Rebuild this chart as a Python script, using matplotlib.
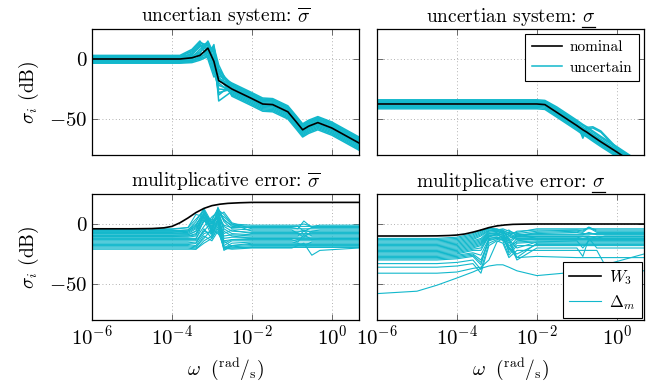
import matplotlib
matplotlib.use("Agg")
import matplotlib.pyplot as plt
from matplotlib.lines import Line2D
import numpy as np

plt.rcParams['font.family'] = 'serif'
plt.rcParams['font.serif'] = ['cmr10', 'DejaVu Serif']
plt.rcParams['mathtext.fontset'] = 'cm'
plt.rcParams['axes.formatter.use_mathtext'] = True

CYAN = '#12B8CC'

# ---- top left: uncertain system, max singular value (dB) ----
w_tl = [-6, -3.8, -3.5, -3.3, -3.1, -2.95, -2.83, -2.5, -2.0, -1.73, -1.48, -1.1, -0.9, -0.73, -0.58, -0.35, 0.0, 0.68]
nom_tl = [0, 0, 1, 3, 9, -2, -18, -25, -33, -37.5, -38, -44, -52, -59, -56, -53, -57.5, -70]
unc_tl = [
    [3, 3, 8, 15, 5, -8, -14, -20, -28, -32.5, -33, -39, -47, -54, -51, -48, -52.5, -65],
    [2, 2, 4, 10, 14, 0, -10, -21, -29, -33.5, -34, -40, -48, -55, -52, -49, -53.5, -66],
    [1.5, 1.5, 3, 12, 2, -12, -16, -22, -30, -34.5, -35, -41, -49, -56, -53, -50, -54.5, -67],
    [1, 1, 2, 6, 12, 6, -8, -24, -32, -36.5, -37, -43, -51, -58, -55, -52, -56.5, -69],
    [-1, -1, 0, 4, 7, -10, -25, -26, -34, -38.5, -39, -45, -53, -60, -57, -54, -58.5, -71],
    [-1.5, -1.5, -1, 2, 10, 8, -35, -27, -35, -39.5, -40, -46, -54, -61, -58, -55, -59.5, -72],
    [-2, -2, -1.5, 1, 5, -6, -20, -29, -37, -41.5, -42, -48, -56, -63, -60, -57, -61.5, -74],
    [-3, -3, -2, 0, 3, 12, -15, -30, -38, -42.5, -43, -49, -57, -64, -61, -58, -62.5, -75],
    [2.5, 2.5, 6, 13, 0, -15, -12, -22, -30, -34.5, -35, -41, -49, -56, -53, -50, -54.5, -67],
    [0.5, 0.5, 1.5, 8, 13, -4, -28, -25, -33, -37.5, -38, -44, -52, -59, -56, -53, -57.5, -70],
    [-2.5, -2.5, -2, 1, 6, 10, -5, -28, -36, -40.5, -41, -47, -55, -62, -59, -56, -60.5, -73],
    [0, 0, 5, 11, 9, -3, -30, -21, -29, -33.5, -34, -40, -48, -55, -52, -49, -53.5, -66],
    [1.8, 1.8, 7, 14, 11, -6, -18, -23, -31, -35.5, -36, -42, -50, -57, -54, -51, -55.5, -68],
    [-0.5, -0.5, 0.5, 5, 15, 4, -22, -26, -34, -38.5, -39, -45, -53, -60, -57, -54, -58.5, -71],
    [-3.5, -3.5, -3, -1, 2, 9, -10, -31, -39, -43.5, -44, -50, -58, -65, -62, -59, -63.5, -76],
]

# ---- top right: uncertain system, min singular value (dB) ----
w_tr = [-6, -2.0, -1.8, -1.5, -1.0, -0.85, -0.75, -0.6, -0.4, 0.0, 0.68]
nom_tr = [-37.5, -37.5, -38, -44.5, -55.5, -59, -61, -64.5, -69, -77.5, -92.5]
unc_tr = [
    [-34, -34, -34.5, -40, -51, -54.5, -56.5, -60, -64.5, -73, -88],
    [-35, -35, -35.5, -41, -52, -55.5, -57.5, -61, -65.5, -74, -89],
    [-36, -36, -36.5, -42.5, -53.5, -57, -59, -62.5, -67, -75.5, -90.5],
    [-37, -37, -37.5, -43.5, -54.5, -58, -60, -63.5, -68, -76.5, -91.5],
    [-38.5, -38.5, -39, -45.5, -56.5, -60, -62, -65.5, -70, -78.5, -93.5],
    [-39.5, -39.5, -40, -46.5, -57.5, -61, -63, -66.5, -71, -79.5, -94.5],
    [-40.5, -40.5, -41, -47.5, -58.5, -62, -64, -67.5, -72, -80.5, -95.5],
    [-41.5, -41.5, -42, -48.5, -59.5, -63, -65, -68.5, -73, -81.5, -96.5],
    [-36, -36, -36.5, -42.5, -53.5, -66, -58, -57.5, -61, -75, -90],
    [-35, -35, -35.5, -41.5, -52.5, -64, -57, -56.5, -60, -74, -89],
]

# ---- bottom: multiplicative error ----
w_b = [-6, -5, -4.5, -4, -3.6, -3.4, -3.2, -3.0, -2.85, -2.7, -2.5, -2.0, -1.0, -0.85, -0.7, -0.5, -0.3, 0.68]

w_w3 = [-6, -5, -4.5, -4.2, -4, -3.8, -3.6, -3.4, -3.2, -3.0, -2.8, -2.6, -2.3, -2.0, 0.68]
w3_max = [-4, -4, -3.8, -3.2, -2, 1, 5, 9.5, 13, 15.3, 16.5, 17.2, 17.7, 18, 18]
w3_min = [-10, -10, -9.9, -9.6, -9.2, -8.3, -6.8, -5, -3, -1.6, -0.8, -0.3, -0.1, 0, 0]

err_max = [
    [-4, -4, -4, -4, -3, 4, 11, 0, 9, 6, 0, -1, -1, -1, 0, -2, -1, -1],
    [-4.5, -4.5, -4.5, -4.5, -3, 8, 6, -3, 11, 3, -1, -2, -2, -2, -2, -2, -2, -2],
    [-5.5, -5.5, -5.5, -5.5, -5, 0, 8, 3, 13, 4, -2, -3, -3, -4, 2.5, -3, -3, -3],
    [-6, -6, -6, -6, -5, 2, 13, 1, 7, -1, -3, -2.5, -2.5, -2, -6, -3, -2.5, -2.5],
    [-6.5, -6.5, -6.5, -6.5, -6, -1, 9, -5, 12, 8, 0, -6, -6, -6, -6, -6, -6, -6],
    [-7, -7, -7, -7, -6, -2, 12, -2, 6, 10, 1, -4, -4, -4, -4, -4, -4, -4],
    [-7.5, -7.5, -7.5, -7.5, -7, -3, 7, 2, 5, -8, -5, -8, -8, -8, -8, -8, -8, -8],
    [-8, -8, -8, -8, -8, -4, 6, -6, 14, 2, -4, -5, -5, -8, -11, -6, -5, -5],
    [-9, -9, -9, -9, -9, -6, 10, -4, 4, -2, -6, -7, -7, -7, -5, -7, -7, -7],
    [-9.5, -9.5, -9.5, -9.5, -9, -6, 5, -6, 11, -6, -10, -12, -12, -12, -12, -12, -12, -12],
    [-10, -10, -10, -10, -10, -9, 2, 4, 12, -4, -8, -9, -9, -9, -9, -9, -9, -9],
    [-10.5, -10.5, -10.5, -10.5, -10, -8, 3, 0, 6, -14, -13, -13, -13, -15, -9, -13, -13, -13],
    [-11, -11, -11, -11, -11, -10, 9, -8, 2, -10, -9, -10, -10, -10, -6, -10, -10, -10],
    [-12, -12, -12, -12, -12, -12, -2, 6, 10, -12, -11, -11, -11, -11, -11, -11, -11, -11],
    [-13, -13, -13, -13, -13, -13, 4, -10, 0, -16, -13, -12, -12, -13, -13, -13, -12, -12],
    [-14, -14, -14, -14, -14, -14, -6, 2, 8, -18, -14, -14, -14, -14, -14, -14, -14, -14],
    [-15, -15, -15, -15, -15, -16, -4, -12, -2, -20, -16, -15, -15, -16, -18, -15, -15, -15],
    [-16, -16, -16, -16, -16, -16, -6, -8, 3, -20, -18, -16, -16, -16, -16, -16, -16, -16],
    [-17, -17, -17, -17, -17, -18, -8, -6, 4, -22, -18, -17, -17, -17, -17, -17, -17, -17],
    [-18, -18, -18, -18, -18, -19, -12, -4, -8, -14, -19, -18, -18, -18, -18, -18, -18, -18],
    [-19, -19, -19, -19, -19, -20, -10, -14, -6, -19, -20, -19, -19, -19, -19, -19, -19, -19],
    [-20, -20, -20, -20, -20, -21, -16, -12, -4, -21, -20, -19.5, -19.5, -19.5, -19.5, -19.5, -19.5, -19.5],
    [-21, -21, -21, -21, -21, -21, -14, -10, 2, -20, -21, -20, -20, -18, -16, -26, -22, -20],
]

err_min = [
    [-12, -12, -12, -11, -8, -5, -4, -4, -6, -10, -6, -5, -5, -5, -3, -5, -5, -5],
    [-13, -13, -13, -12, -9, -6, -3.5, -4.5, -5, -8, -7, -4, -4, -4, -4, -4, -4, -4],
    [-14, -14, -14, -13, -10, -7, -3, -5, -4, -6, -8, -6, -5, -6, -2.5, -6, -6, -6],
    [-15, -15, -15, -14, -11, -8, -4, -5, -7, -5, -10, -7, -6, -7, -3, -7, -7, -7],
    [-16, -16, -16, -15, -12, -9, -5, -6, -8, -7, -9, -8, -7, -8, -8, -8, -8, -8],
    [-17, -17, -17, -16, -13, -10, -5.5, -6, -6, -12, -9, -8.5, -8.5, -8.5, -8.5, -8.5, -8.5, -8.5],
    [-18, -18, -18, -17, -14, -12, -6, -5, -5, -14, -10, -9, -9, -9, -7, -9, -9, -9],
    [-19, -19, -19, -18, -15, -13, -7, -6, -8, -16, -10.5, -10.5, -10.5, -10.5, -10.5, -10.5, -10.5, -10.5],
    [-20, -20, -20, -19, -16, -14, -8, -7, -10, -8, -11, -10, -10, -10, -10, -12, -10, -10],
    [-21, -21, -21, -20, -17, -15, -8, -8, -7, -9, -12, -12, -12, -12, -12, -12, -12, -12],
    [-22, -22, -22, -21, -18, -16, -9, -9, -6, -20, -12, -11, -11, -12, -11, -11, -11, -11],
    [-23, -23, -23, -22, -19, -17, -10, -9, -11, -22, -14, -12.5, -12.5, -12.5, -12.5, -12.5, -12.5, -12.5],
    [-24, -24, -24, -23, -20, -18, -11, -8, -12, -10, -13, -13, -13, -13, -13, -13, -13, -13],
    [-25, -25, -25, -24, -21, -20, -10, -9, -9, -18, -15, -14, -14, -14, -14, -14, -14, -14],
    [-26, -26, -26, -25, -22, -22, -10, -10, -8, -24, -16, -15, -14, -20, -14, -14, -14, -14],
    [-27, -27, -27, -26, -24, -26, -12, -11, -11, -13, -20, -15, -15, -15, -15, -15, -15, -15],
    [-28, -28, -28, -27, -25, -30, -14, -12, -10, -12, -28, -16, -16, -16, -16, -16, -16, -16],
    [-29, -29, -29, -28, -26, -32, -13, -12, -13, -20, -25, -17, -17, -17, -17, -17, -17, -17],
    [-30, -30, -30, -29, -27, -34, -12, -11, -14, -26, -18, -18, -18, -18, -18, -18, -18, -18],
    [-33, -33, -33, -32, -30, -38, -16, -13, -12, -14, -30, -20, -20, -27, -12, -20, -20, -20],
    [-36, -36, -36, -35, -33, -41, -18, -14, -16, -28, -22, -22, -22, -22, -22, -22, -34, -25],
    [-41, -41, -41, -40, -37, -36, -30, -15, -12, -20, -28, -27, -28, -28, -28, -28, -28, -28],
    [-58, -56, -51, -45, -40, -37, -35, -34, -34, -36, -39, -43, -40, -39, -39, -39, -39, -39],
]

titles = [r'uncertian system: $\overline{\sigma}$', r'uncertian system: $\sigma$',
          r'mulitplicative error: $\overline{\sigma}$', r'mulitplicative error: $\sigma$']
underlined = [False, True, False, True]

fig = plt.figure(figsize=(6.53, 3.82), dpi=100)
W, H = 653.0, 382.0
pos = [(92, 29), (377, 29), (92, 194), (377, 194)]
axs = [fig.add_axes([x / W, 1 - (y + 126) / H, 267 / W, 126 / H]) for x, y in pos]

def lw(v):
    return 10.0 ** np.array(v)

ax = axs[0]
for c in unc_tl:
    ax.plot(lw(w_tl), c, color=CYAN, lw=1.1)
ax.plot(lw(w_tl), nom_tl, color='black', lw=1.2)

ax = axs[1]
for i, c in enumerate(unc_tr):
    ax.plot(lw(w_tr), c, color=CYAN, lw=1.1, label='uncertain' if i == 0 else None)
ax.plot(lw(w_tr), nom_tr, color='black', lw=1.2, label='nominal')
h, l = ax.get_legend_handles_labels()
leg = ax.legend(h[::-1], l[::-1], loc='upper right', fontsize=11, fancybox=False,
                edgecolor='black', framealpha=1, borderpad=0.4, handlelength=2.0,
                labelspacing=0.45, borderaxespad=0.35, handletextpad=0.5)
leg.get_frame().set_linewidth(0.8)

ax = axs[2]
for c in err_max:
    ax.plot(lw(w_b), c, color=CYAN, lw=0.8)
ax.plot(lw(w_w3), w3_max, color='black', lw=1.2)

ax = axs[3]
for i, c in enumerate(err_min):
    ax.plot(lw(w_b), c, color=CYAN, lw=0.8, label=r'$\Delta_m$' if i == 0 else None)
ax.plot(lw(w_w3), w3_min, color='black', lw=1.2, label=r'$W_3$')
h, l = ax.get_legend_handles_labels()
leg = ax.legend(h[::-1], l[::-1], loc='lower right', fontsize=12, fancybox=False,
                edgecolor='black', framealpha=1, borderpad=0.35, handlelength=1.9,
                labelspacing=0.35, borderaxespad=0.15, handletextpad=0.5)
leg.get_frame().set_linewidth(0.8)

title_objs = []
for i, ax in enumerate(axs):
    ax.set_xscale('log')
    ax.set_xlim(1e-6, 10 ** 0.68)
    ax.set_ylim(-80, 25)
    ax.set_xticks([1e-6, 1e-4, 1e-2, 1e0])
    ax.xaxis.set_minor_locator(matplotlib.ticker.NullLocator())
    ax.set_yticks([-50, 0])
    ax.grid(True, linestyle=(0, (1, 3)), color='#999999', lw=0.6)
    ax.tick_params(direction='in', top=True, right=True, length=4, width=0.6,
                   labelsize=15, colors='#555555', labelcolor='black')
    for s in ax.spines.values():
        s.set_linewidth(0.9)
    title_objs.append(ax.set_title(titles[i], fontsize=14, pad=5))
    if i < 2:
        ax.set_xticklabels([])
    else:
        ax.set_xlabel(r'$\omega\ \ (^{\mathrm{rad}}/_{\mathrm{s}})$', fontsize=14, labelpad=5)
    if i % 2 == 1:
        ax.set_yticklabels([])
    else:
        ax.set_ylabel(r'$\sigma_i$ (dB)', fontsize=14, labelpad=6)

# mathtext has no \underline, so draw the bar under sigma by hand
fig.canvas.draw()
r = fig.canvas.get_renderer()
probe = fig.text(0, 0, r'$\sigma$', fontsize=14)
sw = probe.get_window_extent(r).width
probe.remove()
for t, u in zip(title_objs, underlined):
    if not u:
        continue
    bb = t.get_window_extent(r)
    y = (bb.y0 + 1.5) / H
    fig.add_artist(Line2D([(bb.x1 - sw) / W, bb.x1 / W], [y, y],
                          color='black', lw=0.9, transform=fig.transFigure))

fig.savefig('out.png', dpi=100)
